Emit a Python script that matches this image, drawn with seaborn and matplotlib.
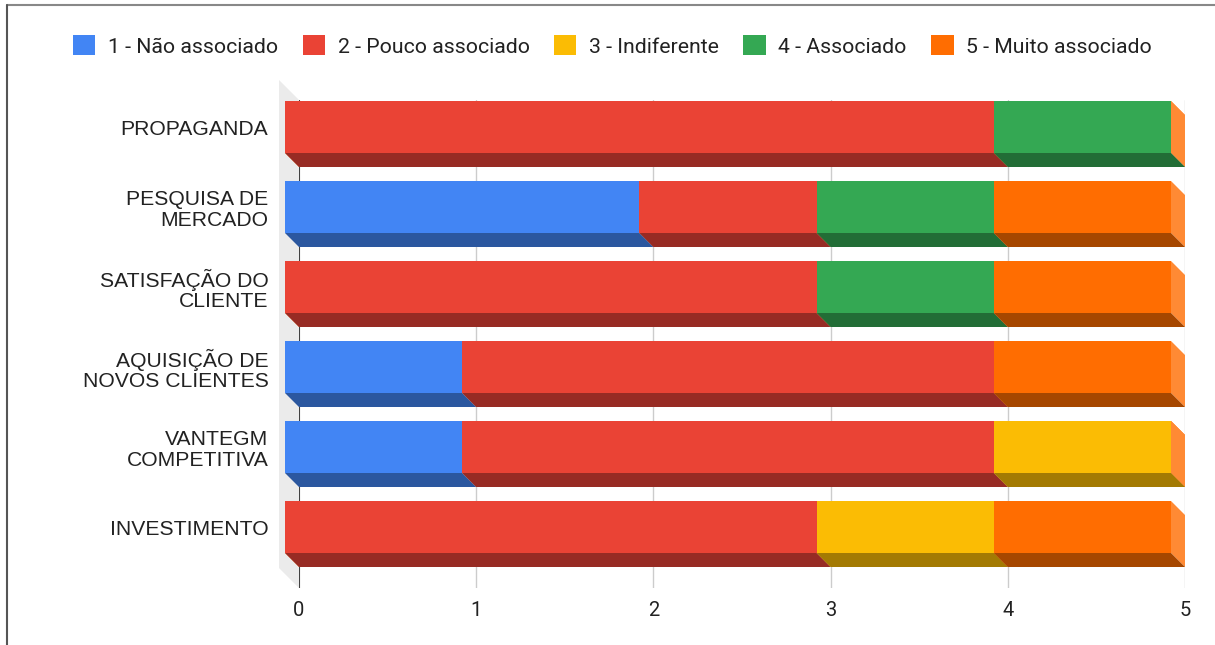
import numpy as np
import pandas as pd
import seaborn as sns
import matplotlib
matplotlib.use("Agg")
import matplotlib.pyplot as plt
from matplotlib.patches import Polygon, Patch
from matplotlib.lines import Line2D
from matplotlib.transforms import ScaledTranslation, IdentityTransform

# ---------------- data ----------------
categories = ["PROPAGANDA", "PESQUISA DE\nMERCADO", "SATISFAÇÃO DO\nCLIENTE",
              "AQUISIÇÃO DE\nNOVOS CLIENTES", "VANTEGM\nCOMPETITIVA", "INVESTIMENTO"]
series_names = ["1 - Não associado", "2 - Pouco associado", "3 - Indiferente",
                "4 - Associado", "5 - Muito associado"]
nao_associado = [0, 2, 0, 1, 1, 0]
pouco_associado = [4, 1, 3, 3, 3, 3]
indiferente = [0, 0, 0, 0, 1, 1]
associado = [1, 1, 1, 0, 0, 0]
muito_associado = [0, 1, 1, 1, 0, 1]
x_ticks = [0, 1, 2, 3, 4, 5]

series = [nao_associado, pouco_associado, indiferente, associado, muito_associado]

# ---------------- style ----------------
front_colors = ["#4285F4", "#EA4335", "#FBBC04", "#34A853", "#FF6D01"]
bottom_colors = ["#2B579F", "#972B24", "#A37A03", "#226D36", "#A64700"]
side_color = "#FF8A34"
text_color = "#222222"

sns.set_theme(style="white")
plt.rcParams["font.family"] = ["Liberation Sans", "DejaVu Sans"]

W, H, DPI = 1215, 645, 100
fig = plt.figure(figsize=(W / DPI, H / DPI), dpi=DPI)
fig.patch.set_facecolor("white")
ax = fig.add_axes([299 / W, 1 - 588 / H, 886 / W, 488 / H])
ax.set_facecolor("none")

DEPTH = 14  # px depth of the 3D bars
bar_h = 0.65
off = ScaledTranslation(-DEPTH / DPI, DEPTH / DPI, fig.dpi_scale_trans)

# cumulative ends for stacking
cum = np.cumsum(np.array(series, dtype=float), axis=0)
starts = np.vstack([np.zeros(len(categories)), cum[:-1]])

# front faces with seaborn (longest first so shorter stacks overlay)
for k in reversed(range(len(series))):
    df = pd.DataFrame({"cat": categories, "val": cum[k]})
    n0 = len(ax.patches)
    sns.barplot(data=df, x="val", y="cat", orient="h", color=front_colors[k],
                saturation=1, width=bar_h, errorbar=None, ax=ax, zorder=3,
                linewidth=0)
    for p in ax.patches[n0:]:
        p.set_transform(ax.transData + off)
        p.set_clip_on(False)

ax.set_xlim(0, 5)
ax.set_ylim(5.5875, -0.5125)

# data-unit depth offsets
p0 = ax.transData.transform((0, 0))
ddx, ddy = ax.transData.inverted().transform(p0 + np.array([-DEPTH, DEPTH]))

# bottom and side faces
for k in range(len(series)):
    for i in range(len(categories)):
        a, b = starts[k][i], cum[k][i]
        ytop, ybot = i - bar_h / 2, i + bar_h / 2
        bottom = Polygon([(a + ddx, ybot + ddy), (b + ddx, ybot + ddy), (b, ybot), (a, ybot)],
                         closed=True, facecolor=bottom_colors[k], edgecolor="none",
                         zorder=2, clip_on=False)
        side = Polygon([(b + ddx, ytop + ddy), (b + ddx, ybot + ddy), (b, ybot), (b, ytop)],
                       closed=True, facecolor=side_color, edgecolor="none",
                       zorder=1.8, clip_on=False)
        ax.add_patch(side)
        ax.add_patch(bottom)

# left wall (3D)
WALL = 20
tl = ax.transAxes.transform((0, 1))
bl = ax.transAxes.transform((0, 0))
wall = Polygon([tl, bl, bl + np.array([-WALL, WALL]), tl + np.array([-WALL, WALL])],
               closed=True, facecolor="#ebebeb", edgecolor="none", zorder=0.8,
               transform=IdentityTransform(), clip_on=False)
ax.add_artist(wall)

# grid and axis line
ax.set_axisbelow(True)
ax.xaxis.grid(True, color="#cccccc", linewidth=1.0)
ax.yaxis.grid(False)
ax.axvline(0, color="#333333", linewidth=1.3, zorder=1.5)
for s in ax.spines.values():
    s.set_visible(False)

ax.set_xticks(x_ticks)
ax.set_xticklabels([str(t) for t in x_ticks], family=["Roboto", "DejaVu Sans"])
ax.tick_params(axis="x", length=0, pad=9, labelsize=14.5, labelcolor=text_color)

ax.set_yticks(np.arange(len(categories)) + ddy)
ax.set_yticklabels(categories, family=["Liberation Sans", "DejaVu Sans"])
ax.tick_params(axis="y", length=0, pad=22, labelsize=15.2, labelcolor=text_color)
for lbl in ax.get_yticklabels():
    lbl.set_linespacing(1.12)
    lbl.set_multialignment("right")

ax.set_xlabel("")
ax.set_ylabel("")

# legend
handles = [Patch(facecolor=c, edgecolor="none") for c in front_colors]
fig.legend(handles, series_names, loc="center", bbox_to_anchor=(612.5 / W, 1 - 46 / H),
           ncol=5, frameon=False, prop={"family": ["Roboto", "DejaVu Sans"], "size": 15.3},
           handlelength=1.05, handleheight=1.05, handletextpad=0.6, columnspacing=1.15,
           labelcolor=text_color)

# outer frame of the screenshot
fig.add_artist(Line2D([7 / W, 1], [1 - 5 / H, 1 - 5 / H], transform=fig.transFigure,
                      color="#888888", linewidth=1.5))
fig.add_artist(Line2D([7 / W, 7 / W], [0, 1 - 5 / H], transform=fig.transFigure,
                      color="#555555", linewidth=1.5))

fig.savefig("out.png", dpi=DPI)
